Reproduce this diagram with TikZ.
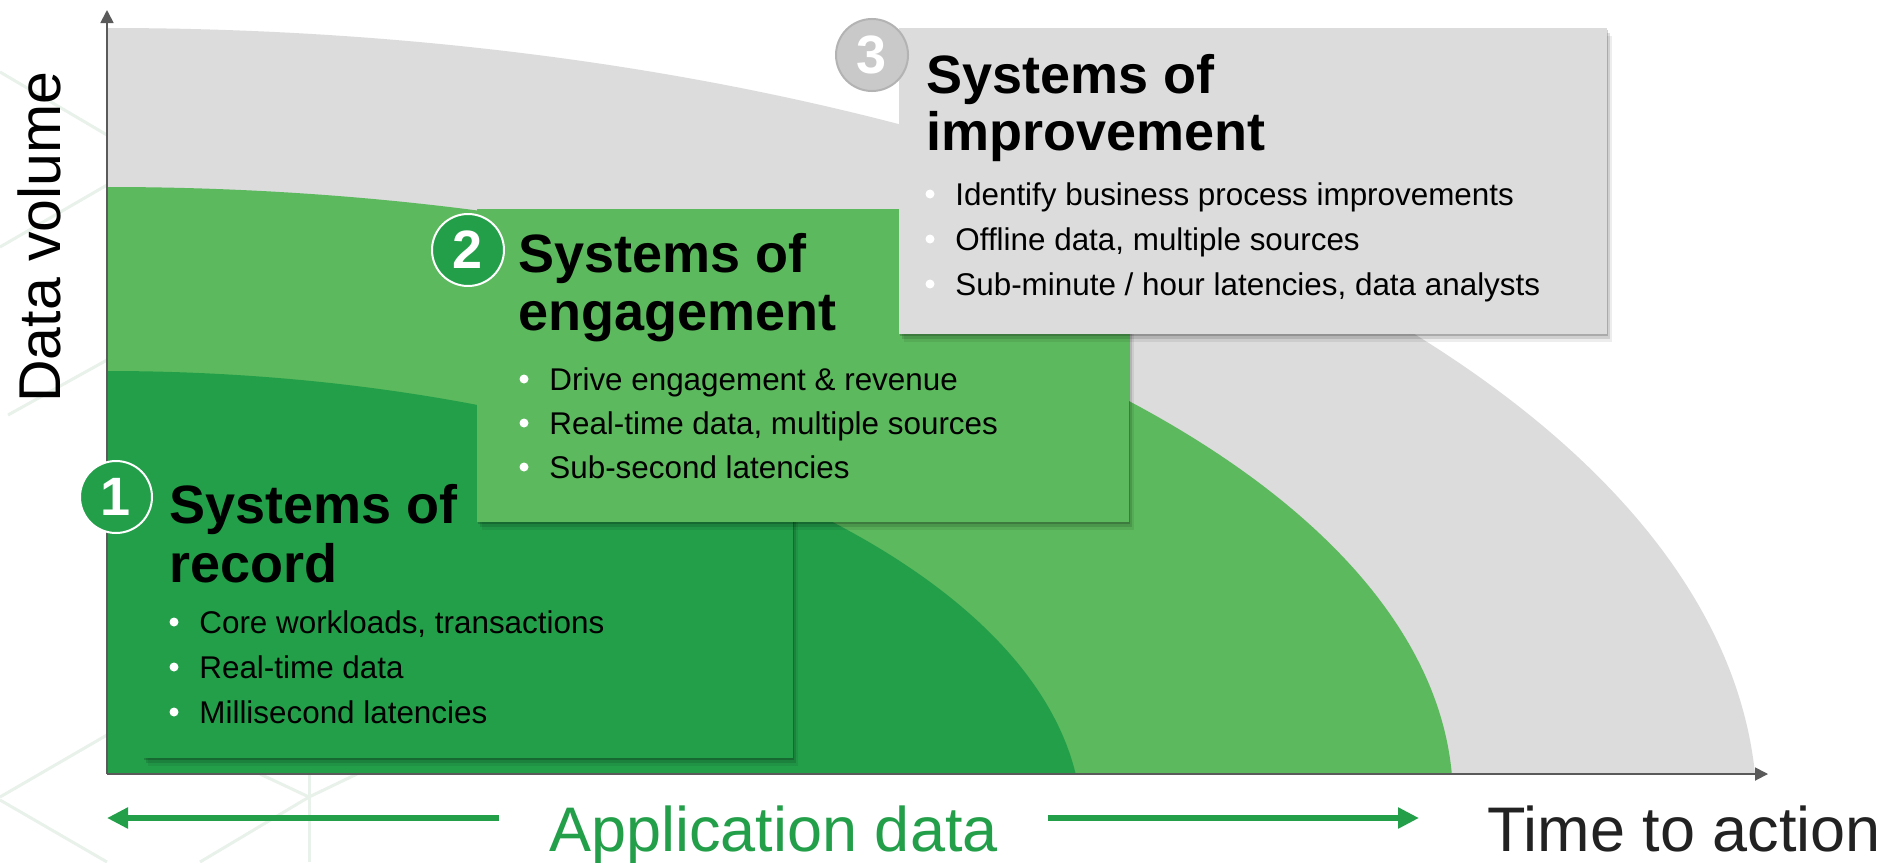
\documentclass[tikz,border=0pt]{standalone}
\usepackage{fontspec}
\setmainfont{Liberation Sans}
\usepackage{xcolor}
\usepackage{tikz}
\usetikzlibrary{arrows.meta,shadows}

\definecolor{dkgreen}{HTML}{239F4A}
\definecolor{ltgreen}{HTML}{5CB95D}
\definecolor{lgrey}{HTML}{DCDCDC}
\definecolor{axisgrey}{HTML}{5A5A5A}
\definecolor{hexgrey}{HTML}{E9F1EB}
\definecolor{numgrey}{HTML}{C9C9C9}
\definecolor{numedge}{HTML}{B3B3B3}
\definecolor{darktext}{HTML}{222222}

\begin{document}
\begin{tikzpicture}[x=0.5pt, y=-0.5pt,
    axisline/.style={axisgrey, line width=0.9pt, -{Triangle[length=6.5pt,width=6.5pt]}},
    apparrow/.style={dkgreen, line width=3.4pt, -{Triangle[length=10.5pt,width=10pt]}},
    boxshadow/.style={
      drop shadow={shadow xshift=0.5pt, shadow yshift=-1pt, opacity=.18, fill=black},
      drop shadow={shadow xshift=1.5pt, shadow yshift=-2.5pt, opacity=.12, fill=black},
      drop shadow={shadow xshift=2.5pt, shadow yshift=-4pt, opacity=.07, fill=black}},
    sysbox/.style={rectangle, inner sep=0pt, anchor=north west, boxshadow},
    numcircle/.style={circle, minimum size=36pt, inner sep=0pt, line width=1pt,
      text=white, font=\bfseries\fontsize{27}{27}\selectfont},
    titletext/.style={anchor=base west, inner sep=0pt, font=\bfseries\fontsize{27}{30}\selectfont},
    bullettext/.style={anchor=base west, inner sep=0pt, font=\fontsize{15.7}{18}\selectfont},
    bigtext/.style={anchor=base west, inner sep=0pt, font=\fontsize{31.5}{34}\selectfont}
  ]
  \useasboundingbox (0,0) rectangle (1899,862);
  \fill[white] (0,0) rectangle (1899,862);

  % faint hexagon lines in the background
  \begin{scope}[hexgrey, line width=1.5pt]
    \draw (0,72) -- (107,135);
    \draw (0,247) -- (107,185);
    \draw (8,415) -- (107,360);
    \draw (0,797) -- (107,735);
    \draw (0,800) -- (107,862);
    \draw (260,774) -- (309,797) -- (357,774);
    \draw (309,774) -- (309,862);
    \draw (309,797) -- (200,862);
  \end{scope}

  % nested regions
  \begin{scope}
    \clip (107,0) rectangle (1800,774);
    \fill[lgrey] (107,813) ellipse [x radius=1650, y radius=785];
    \fill[ltgreen] (107,800) ellipse [x radius=1346, y radius=613];
    \fill[dkgreen] (107,826) ellipse [x radius=975, y radius=455];
  \end{scope}

  % axes
  \coordinate (origin) at (107,774);
  \coordinate (ytop) at (107,10);
  \coordinate (xend) at (1768,774);
  \draw[axisline] (origin) -- (ytop);
  \draw[axisline] (origin) -- (xend);
  \node[rotate=90, anchor=base, inner sep=0pt, font=\fontsize{29.5}{32}\selectfont] (volume) at (60,237) {Data volume};

  % systems of record
  \node[sysbox, fill=dkgreen, minimum width=325pt, minimum height=150pt] (recbox) at (143,458) {};
  \node[titletext] (rect1) at (169,523) {Systems of};
  \node[titletext] (rect2) at (169,582) {record};
  \foreach \txt [count=\i] in {{Core workloads, transactions},{Real-time data},{Millisecond latencies}}{
    \node[bullettext] (rec\i) at (199,{633+45*(\i-1)}) {\txt};
    \fill[white] ([xshift=-12.5pt, yshift=5.5pt]rec\i.base west) circle (2.25pt);
  }

  % systems of engagement
  \node[sysbox, fill=ltgreen, minimum width=326pt, minimum height=156.5pt] (engbox) at (477,209) {};
  \node[titletext] (engt1) at (518,272) {Systems of};
  \node[titletext] (engt2) at (518,330) {engagement};
  \foreach \txt [count=\i] in {{Drive engagement \& revenue},{Real-time data, multiple sources},{Sub-second latencies}}{
    \node[bullettext] (eng\i) at (549,{390+44*(\i-1)}) {\txt};
    \fill[white] ([xshift=-12.5pt, yshift=5.5pt]eng\i.base west) circle (2.25pt);
  }

  % systems of improvement
  \node[sysbox, fill=lgrey, minimum width=354pt, minimum height=153pt] (impbox) at (899,28) {};
  \node[titletext] (impt1) at (926,93) {Systems of};
  \node[titletext] (impt2) at (926,150) {improvement};
  \foreach \txt [count=\i] in {{Identify business process improvements},{Offline data, multiple sources},{Sub-minute / hour latencies, data analysts}}{
    \node[bullettext] (imp\i) at (955,{205+45*(\i-1)}) {\txt};
    \fill[white] ([xshift=-12.5pt, yshift=5.5pt]imp\i.base west) circle (2.25pt);
  }

  % numbers
  \node[numcircle, fill=dkgreen, draw=white] (num1) at (116,497) {1};
  \node[numcircle, fill=dkgreen, draw=white] (num2) at (468,250) {2};
  \node[numcircle, fill=numgrey, draw=numedge] (num3) at (872,55) {3};

  % bottom labels
  \node[bigtext, text=dkgreen] (appdata) at (549,851) {Application data};
  \node[bigtext, text=darktext] (timeaction) at (1487,851) {Time to action};
  \coordinate (lstart) at (499,818);
  \coordinate (lend) at (107,818);
  \coordinate (rstart) at (1048,818);
  \coordinate (rend) at (1419,818);
  \draw[apparrow] (lstart) -- (lend);
  \draw[apparrow] (rstart) -- (rend);
\end{tikzpicture}
\end{document}
